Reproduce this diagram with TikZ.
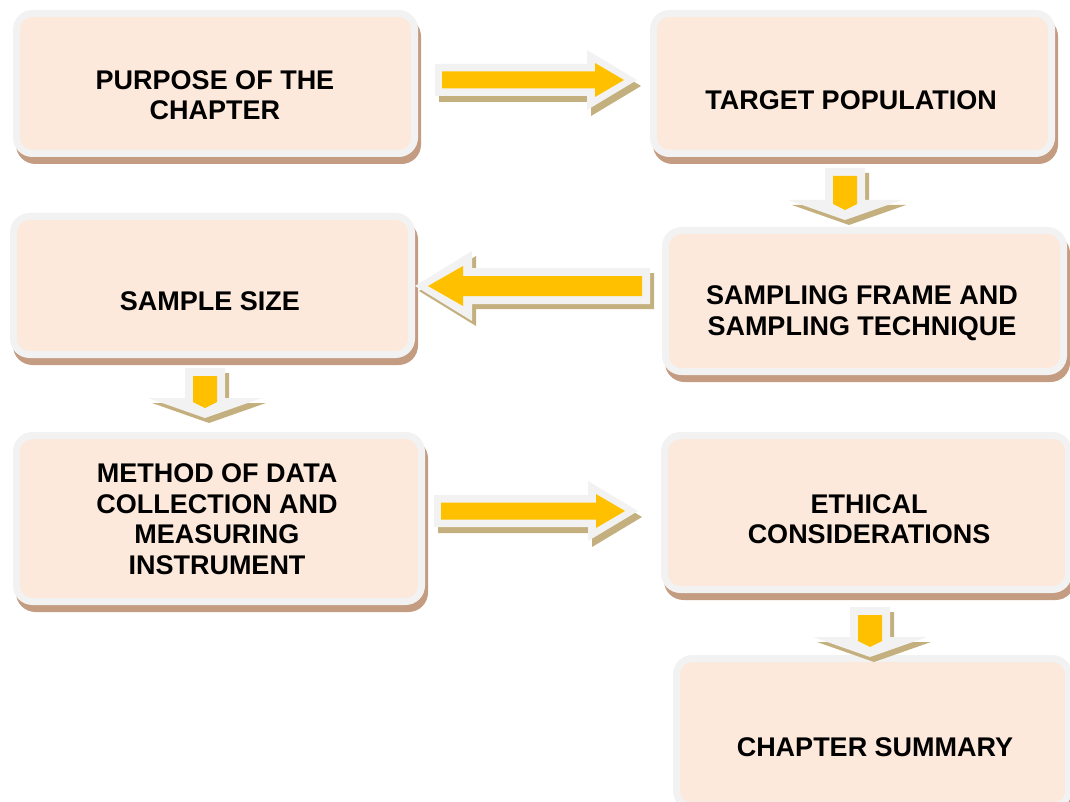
\documentclass[tikz,border=0pt]{standalone}
\usepackage{fontspec}
\setmainfont{Liberation Sans}
\definecolor{boxfill}{HTML}{FCE9DB}
\definecolor{boxline}{HTML}{F2F2F2}
\definecolor{boxshadow}{HTML}{C49C82}
\definecolor{arrfill}{HTML}{FFC000}
\definecolor{arrline}{HTML}{F2F2F2}
\definecolor{arrshadow}{HTML}{C4B07E}
\tikzset{
  box/.style={rounded corners=16pt, fill=boxfill, draw=boxline, line width=7pt, inner sep=0pt,
    preaction={fill=boxshadow, draw=boxshadow, line width=7pt, transform canvas={shift={(3pt,-7pt)}}}},
  lbl/.style={font=\bfseries\fontsize{27}{30.5}\selectfont, align=center, inner sep=0pt, text=black},
  arrout/.style={fill=arrline},
  arrin/.style={fill=arrfill},
  arrsh/.style={fill=arrshadow}
}
\newcommand{\rarrow}[3]{%
  \foreach \dx/\dy/\st in {4/6/arrsh,0/0/arrout}{
    \fill[\st, shift={(\dx,\dy)}] (#1,{#3-16}) -- ({#2-50},{#3-16}) -- ({#2-50},{#3-30}) -- (#2,#3)
      -- ({#2-50},{#3+30}) -- ({#2-50},{#3+16}) -- (#1,{#3+16}) -- cycle;}
  \fill[arrin] ({#1+7},{#3-8.5}) -- ({#2-42},{#3-8.5}) -- ({#2-42},{#3-17}) -- ({#2-13},#3)
      -- ({#2-42},{#3+17}) -- ({#2-42},{#3+8.5}) -- ({#1+7},{#3+8.5}) -- cycle;}
\newcommand{\larrow}[3]{%
  \foreach \dx/\dy/\st in {4/5/arrsh,0/0/arrout}{
    \fill[\st, shift={(\dx,\dy)}] (#1,{#3-18}) -- ({#2+57},{#3-18}) -- ({#2+57},{#3-35}) -- (#2,#3)
      -- ({#2+57},{#3+35}) -- ({#2+57},{#3+18}) -- (#1,{#3+18}) -- cycle;}
  \fill[arrin] ({#1-8},{#3-10}) -- ({#2+48},{#3-10}) -- ({#2+48},{#3-20}) -- ({#2+13},#3)
      -- ({#2+48},{#3+20}) -- ({#2+48},{#3+10}) -- ({#1-8},{#3+10}) -- cycle;}
\newcommand{\darrow}[3]{%
  \foreach \dx/\dy/\st in {4/5/arrsh,0/0/arrout}{
    \fill[\st, shift={(\dx,\dy)}] ({#1-20},#2) -- ({#1+20},#2) -- ({#1+20},{#3-20}) -- ({#1+57},{#3-20})
      -- (#1,#3) -- ({#1-57},{#3-20}) -- ({#1-20},{#3-20}) -- cycle;}
  \fill[arrin] ({#1-12},{#2+8}) -- ({#1+12},{#2+8}) -- ({#1+12},{#3-16}) -- (#1,{#3-10})
      -- ({#1-12},{#3-16}) -- cycle;}
\begin{document}
\begin{tikzpicture}[x=1pt,y=-1pt]
\path[use as bounding box] (0,0) rectangle (1070,802);
\clip (0,0) rectangle (1070,802);
% boxes
\node[box, minimum width=398pt, minimum height=140pt] (p) at (215.5,83.5) {};
\node[box, minimum width=398pt, minimum height=140pt] (t) at (852.5,83.5) {};
\node[box, minimum width=398pt, minimum height=138pt] (s) at (212.5,285.5) {};
\node[box, minimum width=398pt, minimum height=141pt] (f) at (864.5,301) {};
\node[box, minimum width=405pt, minimum height=166pt] (m) at (219,518.5) {};
\node[box, minimum width=404pt, minimum height=154pt] (e) at (866.5,512.5) {};
\node[box, minimum width=392pt, minimum height=148pt] (c) at (872.5,732.5) {};
% labels
\node[lbl] (pt) at (215,95) {PURPOSE OF THE\\CHAPTER};
\node[lbl] (tt) at (851,100) {TARGET POPULATION};
\node[lbl] (st) at (210,301) {SAMPLE SIZE};
\node[lbl] (ft) at (862,313) {SAMPLING FRAME AND\\SAMPLING TECHNIQUE};
\node[lbl] (mt) at (217,519) {METHOD OF DATA\\COLLECTION AND\\MEASURING\\INSTRUMENT};
\node[lbl] (et) at (869,519) {ETHICAL\\CONSIDERATIONS};
\node[lbl] (ct) at (875,747) {CHAPTER SUMMARY};
% arrows
\rarrow{435}{637}{80}
\darrow{845}{168}{220}
\larrow{650}{415}{286}
\darrow{205}{368}{418}
\rarrow{434}{638}{511}
\darrow{870}{607}{657}
\end{tikzpicture}
\end{document}
